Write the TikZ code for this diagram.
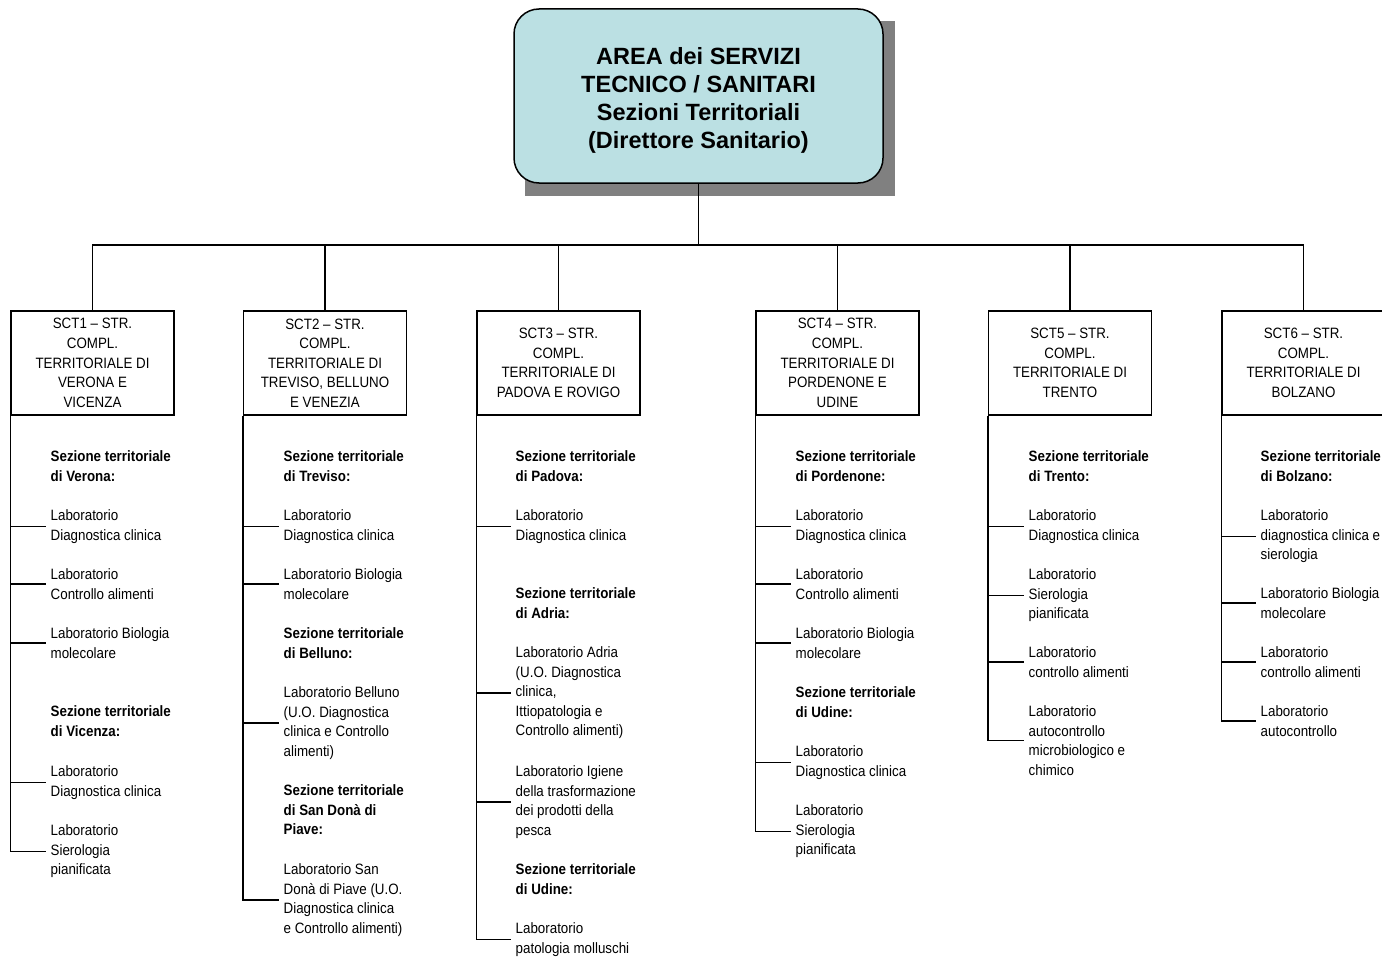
\documentclass[tikz,border=0pt]{standalone}
\usepackage{fontspec}
\setmainfont[FakeStretch=0.89]{Liberation Sans}
\newfontfamily\titlefont{Liberation Sans}
\usetikzlibrary{positioning}
\definecolor{areafill}{RGB}{187,224,227}
\definecolor{shadowgray}{RGB}{128,128,128}

\begin{document}
\begin{tikzpicture}[x=1pt, y=-1pt, line width=1.4pt,
  every node/.style={font=\fontsize{15}{19.6}\selectfont},
  area/.style={draw, line width=1.5pt, rounded corners=25pt, fill=areafill,
    minimum width=369pt, minimum height=174pt, align=center,
    font=\titlefont\bfseries\fontsize{23.5}{27.8}\selectfont},
  sct/.style={draw, minimum width=163pt, minimum height=104pt, align=center, inner sep=0pt},
  sez/.style={anchor=north west, align=left, inner xsep=4pt, inner ysep=0pt,
    font=\bfseries\fontsize{15}{19.6}\selectfont},
  lab/.style={anchor=north west, align=left, inner xsep=4pt, inner ysep=0pt}]
  \useasboundingbox (0,0) rectangle (1382,958);

  % Top: area box with its shadow
  \fill[shadowgray] (525,21) rectangle (895,196);
  \node[area] (area) at (698.5,96) {\rule{0pt}{26pt}AREA dei SERVIZI\\TECNICO / SANITARI\\Sezioni Territoriali\\(Direttore Sanitario)};
  \coordinate (bus) at (698.5,245);

  % Row 2: the six structures
  \node[sct] (sct1) at (92.5,363) {SCT1 – STR.\\COMPL.\\TERRITORIALE DI\\VERONA E\\VICENZA};
  \node[sct] (sct2) at (325,363) {SCT2 – STR.\\COMPL.\\TERRITORIALE DI\\TREVISO, BELLUNO\\E VENEZIA};
  \node[sct] (sct3) at (558.5,363) {SCT3 – STR.\\COMPL.\\TERRITORIALE DI\\PADOVA E ROVIGO};
  \node[sct] (sct4) at (837.5,363) {SCT4 – STR.\\COMPL.\\TERRITORIALE DI\\PORDENONE E\\UDINE};
  \node[sct] (sct5) at (1070,363) {SCT5 – STR.\\COMPL.\\TERRITORIALE DI\\TRENTO};
  \node[sct] (sct6) at (1303.5,363) {SCT6 – STR.\\COMPL.\\TERRITORIALE DI\\BOLZANO};

  % Column 1: Verona e Vicenza
  \node[sez] (vr) at (46,450) {Sezione territoriale\\di Verona:};
  \node[lab] (vrDiag) at (46,509) {Laboratorio\\Diagnostica clinica};
  \node[lab] (vrAlim) at (46,568) {Laboratorio\\Controllo alimenti};
  \node[lab] (vrBio) at (46,627) {Laboratorio Biologia\\molecolare};
  \node[sez] (vi) at (46,705) {Sezione territoriale\\di Vicenza:};
  \node[lab] (viDiag) at (46,765) {Laboratorio\\Diagnostica clinica};
  \node[lab] (viSier) at (46,824) {Laboratorio\\Sierologia\\pianificata};

  % Column 2: Treviso, Belluno e Venezia
  \node[sez] (tv) at (279,450) {Sezione territoriale\\di Treviso:};
  \node[lab] (tvDiag) at (279,509) {Laboratorio\\Diagnostica clinica};
  \node[lab] (tvBio) at (279,568) {Laboratorio Biologia\\molecolare};
  \node[sez] (bl) at (279,627) {Sezione territoriale\\di Belluno:};
  \node[lab] (blLab) at (279,686) {Laboratorio Belluno\\(U.O. Diagnostica\\clinica e Controllo\\alimenti)};
  \node[sez] (sd) at (279,784) {Sezione territoriale\\di San Donà di\\Piave:};
  \node[lab] (sdLab) at (279,863) {Laboratorio San\\Donà di Piave (U.O.\\Diagnostica clinica\\e Controllo alimenti)};

  % Column 3: Padova e Rovigo
  \node[sez] (pd) at (511,450) {Sezione territoriale\\di Padova:};
  \node[lab] (pdDiag) at (511,509) {Laboratorio\\Diagnostica clinica};
  \node[sez] (ad) at (511,587) {Sezione territoriale\\di Adria:};
  \node[lab] (adLab) at (511,646) {Laboratorio Adria\\(U.O. Diagnostica\\clinica,\\Ittiopatologia e\\Controllo alimenti)};
  \node[lab] (adIg) at (511,765) {Laboratorio Igiene\\della trasformazione\\dei prodotti della\\pesca};
  \node[sez] (ud3) at (511,863) {Sezione territoriale\\di Udine:};
  \node[lab] (udMol) at (511,922) {Laboratorio\\patologia molluschi};

  % Column 4: Pordenone e Udine
  \node[sez] (pn) at (791,450) {Sezione territoriale\\di Pordenone:};
  \node[lab] (pnDiag) at (791,509) {Laboratorio\\Diagnostica clinica};
  \node[lab] (pnAlim) at (791,568) {Laboratorio\\Controllo alimenti};
  \node[lab] (pnBio) at (791,627) {Laboratorio Biologia\\molecolare};
  \node[sez] (ud) at (791,686) {Sezione territoriale\\di Udine:};
  \node[lab] (udDiag) at (791,745) {Laboratorio\\Diagnostica clinica};
  \node[lab] (udSier) at (791,804) {Laboratorio\\Sierologia\\pianificata};

  % Column 5: Trento
  \node[sez] (tn) at (1024,450) {Sezione territoriale\\di Trento:};
  \node[lab] (tnDiag) at (1024,509) {Laboratorio\\Diagnostica clinica};
  \node[lab] (tnSier) at (1024,568) {Laboratorio\\Sierologia\\pianificata};
  \node[lab] (tnAlim) at (1024,646) {Laboratorio\\controllo alimenti};
  \node[lab] (tnAuto) at (1024,705) {Laboratorio\\autocontrollo\\microbiologico e\\chimico};

  % Column 6: Bolzano
  \node[sez] (bz) at (1256,450) {Sezione territoriale\\di Bolzano:};
  \node[lab] (bzDiag) at (1256,509) {Laboratorio\\diagnostica clinica e\\sierologia};
  \node[lab] (bzBio) at (1256,587) {Laboratorio Biologia\\molecolare};
  \node[lab] (bzAlim) at (1256,646) {Laboratorio\\controllo alimenti};
  \node[lab] (bzAuto) at (1256,705) {Laboratorio\\autocontrollo};

  % Connections
  \draw (area.south) -- (bus);
  \draw (bus) -| (sct1.north);       \draw (bus) -| (sct2.north);
  \draw (bus) -| (sct3.north);       \draw (bus) -| (sct4.north);
  \draw (bus) -| (sct5.north);       \draw (bus) -| (sct6.north);

  \draw (sct1.south west) |- (vrDiag.west);  \draw (sct1.south west) |- (vrAlim.west);
  \draw (sct1.south west) |- (vrBio.west);   \draw (sct1.south west) |- (viDiag.west);
  \draw (sct1.south west) |- (viSier.west);

  \draw (sct2.south west) |- (tvDiag.west);  \draw (sct2.south west) |- (tvBio.west);
  \draw (sct2.south west) |- (blLab.west);   \draw (sct2.south west) |- (sdLab.west);

  \draw (sct3.south west) |- (pdDiag.west);  \draw (sct3.south west) |- (adLab.west);
  \draw (sct3.south west) |- (adIg.west);    \draw (sct3.south west) |- (udMol.west);

  \draw (sct4.south west) |- (pnDiag.west);  \draw (sct4.south west) |- (pnAlim.west);
  \draw (sct4.south west) |- (pnBio.west);   \draw (sct4.south west) |- (udDiag.west);
  \draw (sct4.south west) |- (udSier.west);

  \draw (sct5.south west) |- (tnDiag.west);  \draw (sct5.south west) |- (tnSier.west);
  \draw (sct5.south west) |- (tnAlim.west);  \draw (sct5.south west) |- (tnAuto.west);

  \draw (sct6.south west) |- (bzDiag.west);  \draw (sct6.south west) |- (bzBio.west);
  \draw (sct6.south west) |- (bzAlim.west);  \draw (sct6.south west) |- (bzAuto.west);
\end{tikzpicture}
\end{document}
